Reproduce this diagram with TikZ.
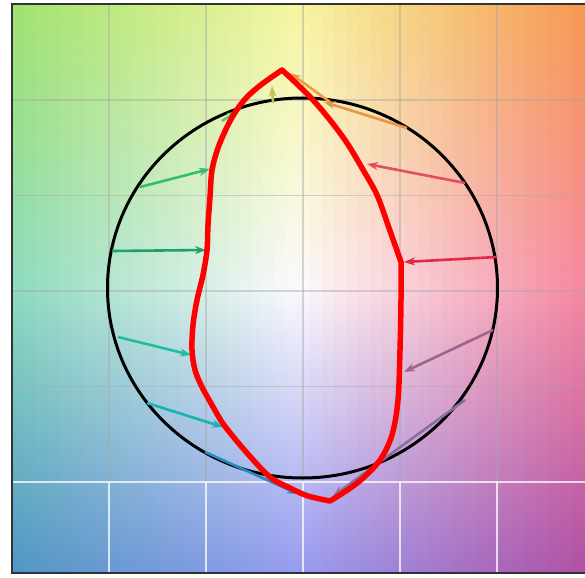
\documentclass[tikz,border=0pt]{standalone}
\usepackage{tikz}
\usetikzlibrary{arrows.meta}

% colour plane corners
\definecolor{tl}{RGB}{160,226,110}
\definecolor{tc}{RGB}{246,246,160}
\definecolor{tr}{RGB}{246,152,80}
\definecolor{ml}{RGB}{140,218,190}
\definecolor{mc}{RGB}{252,250,252}
\definecolor{mr}{RGB}{245,135,160}
\definecolor{bl}{RGB}{80,150,196}
\definecolor{bc}{RGB}{150,155,240}
\definecolor{br}{RGB}{175,80,165}
% arrow colours
\definecolor{arA}{RGB}{90,200,110}
\definecolor{arB}{RGB}{200,190,90}
\definecolor{arC}{RGB}{236,160,60}
\definecolor{arD}{RGB}{230,150,70}
\definecolor{arE}{RGB}{225,80,95}
\definecolor{arF}{RGB}{225,40,70}
\definecolor{arG}{RGB}{160,100,140}
\definecolor{arH}{RGB}{140,110,160}
\definecolor{arI}{RGB}{40,140,190}
\definecolor{arJ}{RGB}{20,180,180}
\definecolor{arK}{RGB}{30,190,160}
\definecolor{arL}{RGB}{30,160,110}
\definecolor{arM}{RGB}{50,190,110}

\begin{document}
\begin{tikzpicture}[
  x=1pt, y=-1pt,
  >={Stealth[length=11pt, width=8pt]},
  edgebox/.style  = {draw=black!80, line width=1.4pt},
  gridline/.style = {gray!70, line width=1.2pt, opacity=0.45},
  gridlite/.style = {white, line width=1.2pt, opacity=0.75},
  ring/.style     = {draw=black, line width=3pt},
  pull/.style     = {->, line width=2.6pt},
  warp/.style     = {draw=red, line width=5.5pt, line join=round},
]
  \useasboundingbox (0,0) rectangle (585,577);

  % colour plane, one shaded strip per column
  \foreach \k in {0,...,47} {
    \pgfmathsetmacro{\cpos}{(\k+0.5)/48}
    \pgfmathsetmacro{\xa}{12+\k*11.9375}
    \pgfmathsetmacro{\xb}{12+(\k+1)*11.9375+0.8}
    \ifdim\cpos pt<0.5pt
      \pgfmathsetmacro{\mixp}{200*\cpos}
      \colorlet{ct}{tc!\mixp!tl}\colorlet{cmid}{mc!\mixp!ml}\colorlet{cb}{bc!\mixp!bl}
    \else
      \pgfmathsetmacro{\mixp}{200*\cpos-100}
      \colorlet{ct}{tr!\mixp!tc}\colorlet{cmid}{mr!\mixp!mc}\colorlet{cb}{br!\mixp!bc}
    \fi
    \shade[top color=ct, bottom color=cb, middle color=cmid] (\xa,4) rectangle (\xb,573);
  }

  % grid
  \foreach \gx in {109,206,303,400,497} {
    \draw[gridline] (\gx,4) -- (\gx,482);
    \draw[gridlite] (\gx,482) -- (\gx,573);
  }
  \foreach \gy in {100,195.5,291,386.5}
    \draw[gridline] (12,\gy) -- (585,\gy);
  \draw[gridlite] (12,482) -- (585,482);
  \draw[edgebox] (12,4) rectangle (590,573);

  \coordinate (ctr) at (302.5,288);
  \draw[ring] (ctr) ellipse [x radius=195, y radius=190];

  % start points on the circle, end points on the red contour
  \coordinate (c1)  at (222,121);  \coordinate (r1)  at (238,111);
  \coordinate (c2)  at (273,103);  \coordinate (r2)  at (272,86);
  \coordinate (c3)  at (330,102);  \coordinate (r3)  at (290,73);
  \coordinate (c4)  at (407,128);  \coordinate (r4)  at (324,102);
  \coordinate (c5)  at (465,183);  \coordinate (r5)  at (367,164);
  \coordinate (c6)  at (497,257);  \coordinate (r6)  at (404,262);
  \coordinate (c7)  at (493,330);  \coordinate (r7)  at (404,372);
  \coordinate (c8)  at (465,400);  \coordinate (r8)  at (333,496);
  \coordinate (c9)  at (205,452);  \coordinate (r9)  at (298,494);
  \coordinate (c10) at (147,403);  \coordinate (r10) at (223,427);
  \coordinate (c11) at (118,337);  \coordinate (r11) at (191,355);
  \coordinate (c12) at (112,251);  \coordinate (r12) at (206,250);
  \coordinate (c13) at (140,187);  \coordinate (r13) at (210,169);

  \foreach \a/\b/\col in {c1/r1/arA, c2/r2/arB, c3/r3/arC, c4/r4/arD,
      c5/r5/arE, c6/r6/arF, c7/r7/arG, c8/r8/arH, c9/r9/arI,
      c10/r10/arJ, c11/r11/arK, c12/r12/arL, c13/r13/arM}
    \draw[pull, \col] (\a) -- (\b);

  \draw[warp] plot[smooth, tension=0.55] coordinates {(282,70) (262,84) (247,97) (236,111)
      (227,127) (218,148) (212,170) (210,197) (208,225) (207,250) (203,275) (197,300)
      (193,325) (192,350) (195,370) (202,387) (212,405) (224,425) (247,453) (270,477)
      (290,488) (308,496) (330,501)}
    -- plot[smooth, tension=0.55] coordinates {(330,501) (346,491) (362,479) (380,460)
      (392,435) (398,400) (400,350) (401,300) (401,262)}
    -- plot[smooth, tension=0.55] coordinates {(401,262) (389,228) (377,195) (362,168)
      (347,143) (330,120) (313,100) (297,84) (282,70)}
    -- cycle;
\end{tikzpicture}
\end{document}
